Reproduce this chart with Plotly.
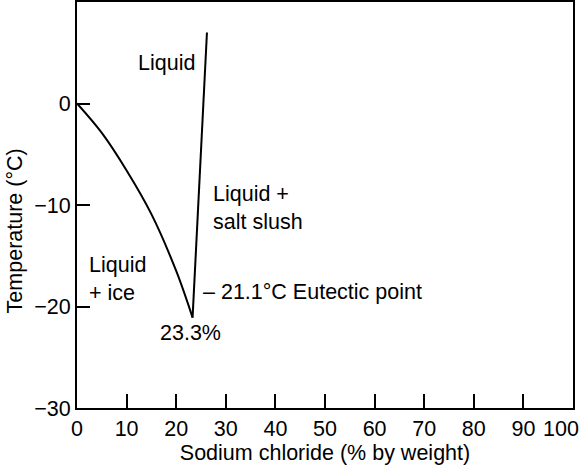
import plotly.graph_objects as go

# Freezing-point curve of brine (ice + liquid boundary)
ice_pct = [0, 5, 10, 15, 20, 23.3]
ice_temp = [0, -2.9, -6.6, -10.9, -16.5, -21.1]

# Salt solubility boundary rising from the eutectic point
salt_pct = [23.3, 26.2]
salt_temp = [-21.1, 7.0]

x_ticks = [0, 10, 20, 30, 40, 50, 60, 70, 80, 90, 100]
x_tick_text = ["0", "10", "20", "30", "40", "50", "60", "70", "80", "90", ""]
x_last_label = "100"
y_ticks = [-30, -20, -10, 0]
y_tick_text = ["\u221230", "\u221220", "\u221210", "0"]

FONT = "Liberation Sans, Arial, Helvetica, sans-serif"
FS = 21.5

fig = go.Figure()
fig.add_trace(go.Scatter(x=ice_pct, y=ice_temp, mode="lines",
                         line=dict(color="black", width=2, shape="spline"),
                         showlegend=False, hoverinfo="skip"))
fig.add_trace(go.Scatter(x=salt_pct, y=salt_temp, mode="lines",
                         line=dict(color="black", width=2),
                         showlegend=False, hoverinfo="skip"))

region_labels = [
    dict(x=18.1, y=4.0, text="Liquid", xanchor="center", align="center"),
    dict(x=27.0, y=-10.3, text="Liquid +<br>salt slush", xanchor="left", align="left"),
    dict(x=2.0, y=-17.3, text="Liquid<br>+ ice", xanchor="left", align="left"),
    dict(x=25.0, y=-18.6, text="\u2013 21.1\u00b0C Eutectic point", xanchor="left", align="left"),
    dict(x=22.8, y=-22.6, text="23.3%", xanchor="center", align="center"),
]
for a in region_labels:
    fig.add_annotation(x=a["x"], y=a["y"], text=a["text"], xanchor=a["xanchor"],
                       yanchor="middle", align=a["align"], showarrow=False,
                       font=dict(family=FONT, size=FS, color="black"))

# Last x tick label, right-aligned to the frame so it stays inside the page
fig.add_annotation(x=x_ticks[-1], y=0, xref="x", yref="paper",
                   text=x_last_label, showarrow=False,
                   xanchor="right", yanchor="top", xshift=8, yshift=-7,
                   font=dict(family=FONT, size=FS, color="black"))

# Vertical axis title, placed a little below the plot's mid-height
fig.add_annotation(x=-0.125, y=0.435, xref="paper", yref="paper",
                   text="Temperature (\u00b0C)", textangle=-90, showarrow=False,
                   xanchor="center", yanchor="middle",
                   font=dict(family=FONT, size=FS, color="black"))

fig.update_xaxes(range=[0, 100], tickvals=x_ticks, ticktext=x_tick_text,
                 ticks="inside", ticklen=14, tickwidth=2, tickcolor="black",
                 showline=True, linewidth=2, linecolor="black", mirror=True,
                 showgrid=False, zeroline=False,
                 tickfont=dict(family=FONT, size=FS, color="black"),
                 title=dict(text="Sodium chloride (% by weight)", standoff=5,
                            font=dict(family=FONT, size=FS, color="black")))
fig.update_yaxes(range=[-30, 10], tickvals=y_ticks, ticktext=y_tick_text,
                 ticks="inside", ticklen=13, tickwidth=2, tickcolor="black",
                 showline=True, linewidth=2, linecolor="black", mirror=True,
                 showgrid=False, zeroline=False,
                 tickfont=dict(family=FONT, size=FS, color="black"))

fig.update_layout(width=582, height=468,
                  margin=dict(l=77, r=9, t=2, b=60, autoexpand=False),
                  plot_bgcolor="white", paper_bgcolor="white",
                  font=dict(family=FONT, size=FS, color="black"))

fig.write_html("out.html")
